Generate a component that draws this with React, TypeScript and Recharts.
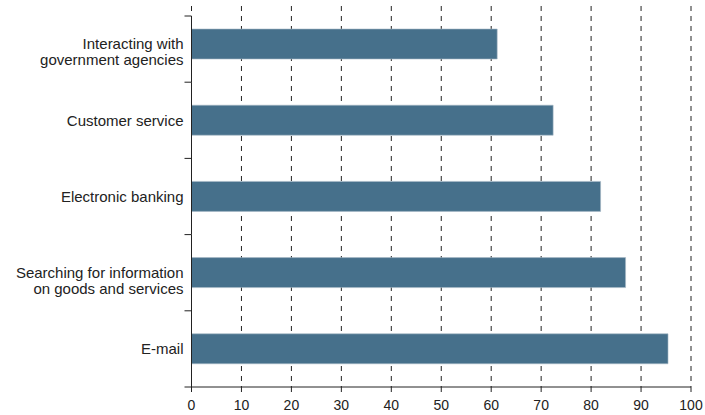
import { Bar, BarChart, CartesianGrid, XAxis, YAxis } from 'recharts';

const categories = [
  'Interacting with\ngovernment agencies',
  'Customer service',
  'Electronic banking',
  'Searching for information\non goods and services',
  'E-mail',
];
const shares = [61.2, 72.4, 81.9, 86.9, 95.4];
const xTicks = [0, 10, 20, 30, 40, 50, 60, 70, 80, 90, 100];

const data = categories.map((name, i) => ({ name, value: shares[i] }));

const FONT = '"Liberation Sans", Arial, sans-serif';
const INK = '#222';
const TICK_GAP = 8; // tickSize + tickMargin of the category axis

// category label plus the axis stroke and boundary ticks for its band
// eslint-disable-next-line @typescript-eslint/no-explicit-any
function CategoryTick({ x, y, payload, index }: any) {
  const lines = String(payload.value).split('\n');
  const half = payload.offset || 38;
  const ax = x + TICK_GAP;
  const top = index === 0 ? y - half + 10 : y - half;
  return (
    <g>
      <line x1={ax} x2={ax} y1={top} y2={y + half} stroke={INK} />
      {index === 0 && <line x1={ax - 7} x2={ax} y1={top} y2={top} stroke={INK} />}
      <line x1={ax - 7} x2={ax} y1={y + half} y2={y + half} stroke={INK} />
      <text x={x} y={y} textAnchor="end" fontSize={15} fill={INK} fontFamily={FONT}>
        {lines.map((line, i) => (
          <tspan key={i} x={x} dy={i === 0 ? '0.35em' : 16}>
            {line}
          </tspan>
        ))}
      </text>
    </g>
  );
}

export default function App() {
  return (
    <div style={{ position: 'absolute', left: 0, top: 0, background: '#fff' }}>
      <BarChart
        width={705}
        height={415}
        data={data}
        layout="vertical"
        margin={{ top: 6, right: 14, bottom: 6, left: 6.5 }}
        barSize={30}
      >
        <CartesianGrid horizontal={false} stroke={INK} strokeDasharray="5 5" />
        <XAxis
          type="number"
          domain={[0, 100]}
          ticks={xTicks}
          interval={0}
          height={22}
          tickSize={5}
          tickMargin={8}
          stroke={INK}
          axisLine={{ stroke: INK }}
          tickLine={{ stroke: INK }}
          tick={{ fontSize: 14, fill: INK, fontFamily: FONT }}
        />
        <YAxis
          type="category"
          dataKey="name"
          width={185}
          axisLine={false}
          tickLine={false}
          tickSize={6}
          tickMargin={2}
          interval={0}
          tick={<CategoryTick />}
        />
        <Bar
          dataKey="value"
          fill="#46708b"
          stroke="#a7b9c6"
          strokeWidth={0.6}
          isAnimationActive={false}
        />
      </BarChart>
    </div>
  );
}
